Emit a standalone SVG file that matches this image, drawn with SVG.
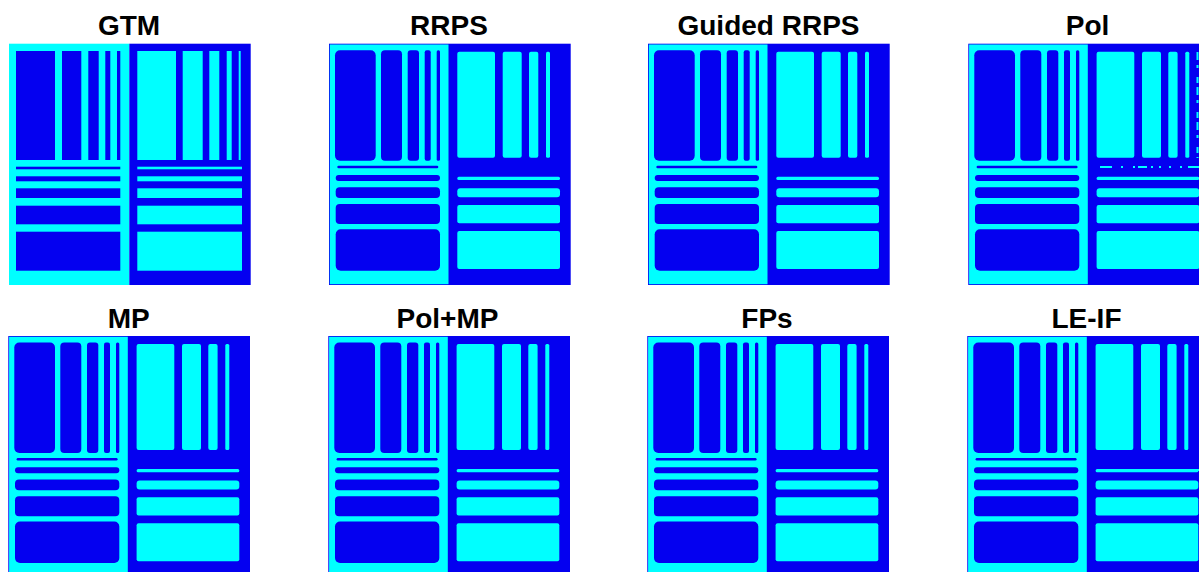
<svg xmlns="http://www.w3.org/2000/svg" xmlns:xlink="http://www.w3.org/1999/xlink" width="1199" height="572" viewBox="0 0 1199 572">
<style>
.t{font-family:"Liberation Sans",Arial,sans-serif;font-weight:bold;font-size:28px;fill:#000;text-anchor:middle}
.b{fill:#0400F0}
.c{fill:#00FFFF}
.cd{stroke:#00FFFF;stroke-width:2;fill:none}
</style>
<defs>
<g id="gtm">
<rect class="c" x="0" y="0" width="120.3" height="241.3"/>
<rect class="b" x="120.3" y="0" width="121.4" height="241.3"/>
<rect class="b" x="7" y="7.3" width="39" height="109"/>
<rect class="b" x="53" y="7.3" width="19.3" height="109"/>
<rect class="b" x="79.3" y="7.3" width="10.4" height="109"/>
<rect class="b" x="96.3" y="7.3" width="5" height="109"/>
<rect class="b" x="108" y="7.3" width="3.3" height="109"/>
<rect class="b" x="7" y="123" width="104.3" height="2.6"/>
<rect class="b" x="7" y="132.6" width="104.3" height="5"/>
<rect class="b" x="7" y="144.6" width="104.3" height="9.7"/>
<rect class="b" x="7" y="162" width="104.3" height="18.6"/>
<rect class="b" x="7" y="188" width="104.3" height="39"/>
<rect class="c" x="128.3" y="7.3" width="38.7" height="109"/>
<rect class="c" x="173.7" y="7.3" width="20" height="109"/>
<rect class="c" x="200.3" y="7.3" width="10" height="109"/>
<rect class="c" x="217.7" y="7.3" width="5" height="109"/>
<rect class="c" x="229.7" y="7.3" width="2" height="109"/>
<rect class="c" x="128.3" y="123" width="104.7" height="2.6"/>
<rect class="c" x="128.3" y="132.6" width="104.7" height="5"/>
<rect class="c" x="128.3" y="144.6" width="104.7" height="9.7"/>
<rect class="c" x="128.3" y="162" width="104.7" height="18.6"/>
<rect class="c" x="128.3" y="188" width="104.7" height="39"/>
</g>
<g id="recon">
<rect class="b" x="0" y="0" width="241.7" height="241.3"/>
<rect class="c" x="0.8" y="0.8" width="118.7" height="239.7"/>
<rect class="b" x="6" y="6.5" width="40.7" height="110.5" rx="5"/>
<rect class="b" x="52" y="6.5" width="21" height="110.5" rx="4"/>
<rect class="b" x="78.7" y="6.5" width="11.3" height="110.5" rx="3"/>
<rect class="b" x="95.7" y="6.5" width="6" height="110.5" rx="2"/>
<rect class="b" x="107.7" y="6.5" width="3.3" height="110.5" rx="1.5"/>
<rect class="b" x="8.3" y="122" width="101" height="2.6" rx="1.3"/>
<rect class="b" x="6.7" y="131.3" width="104.3" height="6" rx="3"/>
<rect class="b" x="6.7" y="143.6" width="104.3" height="10.7" rx="4"/>
<rect class="b" x="6.7" y="160.3" width="104.3" height="20" rx="4"/>
<rect class="b" x="6.7" y="185.6" width="104.3" height="41.4" rx="5"/>
<rect class="c" x="128.3" y="8" width="37.7" height="106" rx="2"/>
<rect class="c" x="173.7" y="8" width="19" height="106" rx="2"/>
<rect class="c" x="200" y="8" width="9.3" height="106" rx="2"/>
<rect class="c" x="217" y="8" width="4" height="106" rx="1.5"/>
<rect class="c" x="128.3" y="133" width="102.7" height="3.3" rx="1.5"/>
<rect class="c" x="128.3" y="144.6" width="102.7" height="9" rx="3"/>
<rect class="c" x="128.3" y="161.3" width="102.7" height="18.3" rx="2"/>
<rect class="c" x="128.3" y="187.3" width="102.7" height="38" rx="2"/>
</g>
</defs>
<g id="panel-gtm">
<text class="t" x="129" y="35">GTM</text>
<use href="#gtm" xlink:href="#gtm" transform="translate(9,43.7)"/>
</g>
<g id="panel-rrps">
<text class="t" x="449" y="35">RRPS</text>
<use href="#recon" xlink:href="#recon" transform="translate(329,43.7)"/>
</g>
<g id="panel-guided-rrps">
<text class="t" x="768.5" y="35">Guided RRPS</text>
<use href="#recon" xlink:href="#recon" transform="translate(648,43.7)"/>
</g>
<g id="panel-pol">
<text class="t" x="1087.5" y="35">Pol</text>
<use href="#recon" xlink:href="#recon" transform="translate(968.3,43.7)"/>
<line class="cd" x1="1197.5" y1="52" x2="1197.5" y2="158" stroke-dasharray="8 5 3 9 6 4"/>
<line class="cd" x1="1100" y1="167" x2="1199" y2="167" stroke-dasharray="12 9 2 10 2 3 9 4 2 6 2 8 2 9 2 6"/>
</g>
<g id="panel-mp">
<text class="t" x="128.7" y="328">MP</text>
<use href="#recon" xlink:href="#recon" transform="translate(8.3,336)"/>
</g>
<g id="panel-pol-mp">
<text class="t" x="447.5" y="328">Pol+MP</text>
<use href="#recon" xlink:href="#recon" transform="translate(328.3,336)"/>
</g>
<g id="panel-fps">
<text class="t" x="767" y="328">FPs</text>
<use href="#recon" xlink:href="#recon" transform="translate(647.3,336)"/>
</g>
<g id="panel-le-if">
<text class="t" x="1086.5" y="328">LE-IF</text>
<use href="#recon" xlink:href="#recon" transform="translate(967.3,336)"/>
<line class="cd" x1="1099" y1="470" x2="1199" y2="470" stroke-dasharray="30 8 4 10 20 6 25 5"/>
</g>
</svg>
